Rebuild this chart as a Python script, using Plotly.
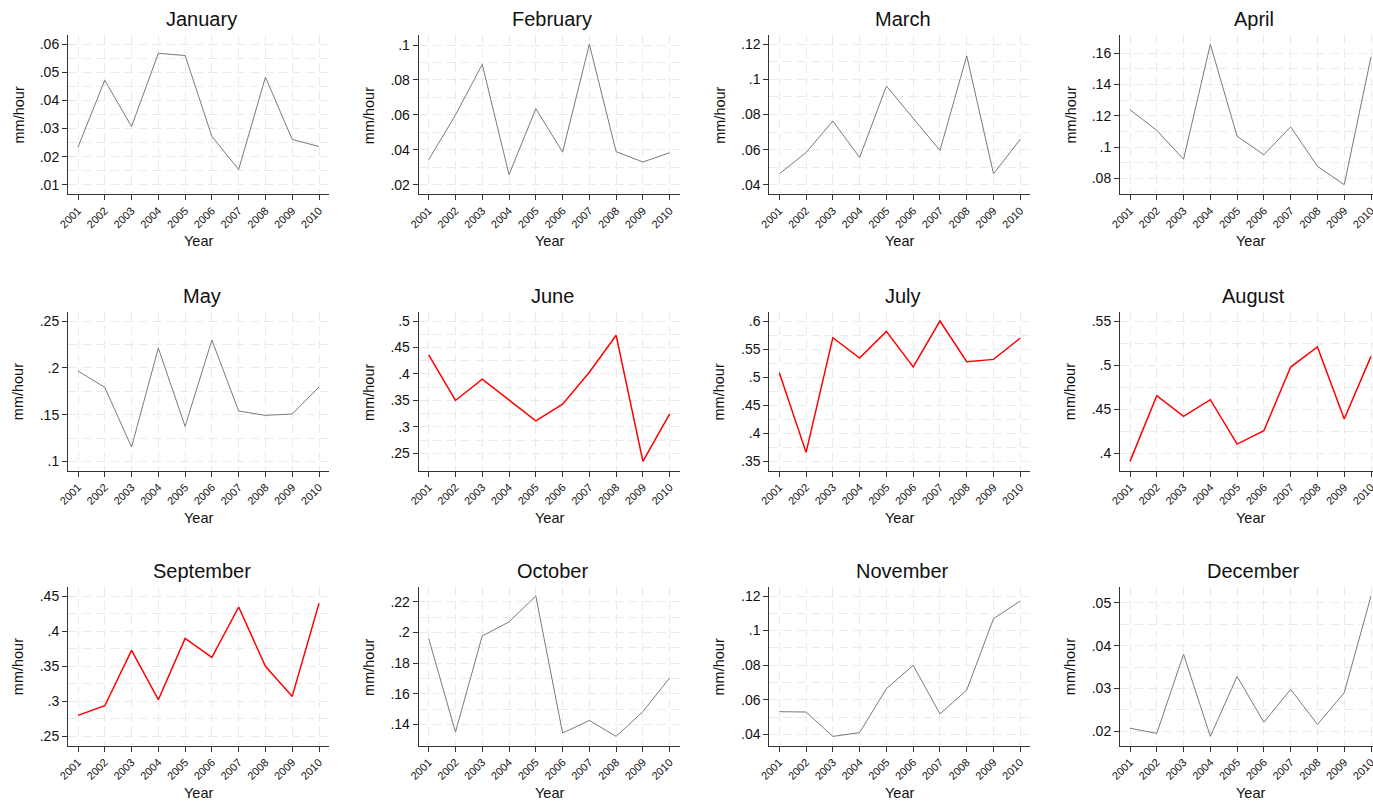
import numpy as np
import plotly.graph_objects as go

years = list(range(2001, 2011))
months = ["January", "February", "March", "April", "May", "June",
          "July", "August", "September", "October", "November", "December"]

jan = [0.0234, 0.0472, 0.0307, 0.0568, 0.0560, 0.0272, 0.0154, 0.0483, 0.0261, 0.0236]
feb = [0.0343, 0.0599, 0.0889, 0.0257, 0.0635, 0.0387, 0.1004, 0.0389, 0.0330, 0.0383]
mar = [0.0462, 0.0583, 0.0763, 0.0555, 0.0962, 0.0778, 0.0595, 0.1134, 0.0462, 0.0659]
apr = [0.1239, 0.1107, 0.0922, 0.1658, 0.1069, 0.0951, 0.1129, 0.0877, 0.0759, 0.1577]
may = [0.1966, 0.1791, 0.1153, 0.2211, 0.1374, 0.2297, 0.1538, 0.1492, 0.1506, 0.1795]
jun = [0.4359, 0.3499, 0.3901, 0.3510, 0.3116, 0.3430, 0.4033, 0.4730, 0.2349, 0.3247]
jul = [0.5083, 0.3661, 0.5708, 0.5345, 0.5821, 0.5185, 0.6006, 0.5280, 0.5321, 0.5702]
aug = [0.3905, 0.4652, 0.4417, 0.4606, 0.4102, 0.4254, 0.4977, 0.5205, 0.4386, 0.5098]
sep = [0.2799, 0.2937, 0.3726, 0.3023, 0.3897, 0.3626, 0.4343, 0.3498, 0.3070, 0.4395]
octo = [0.1960, 0.1350, 0.1977, 0.2068, 0.2237, 0.1344, 0.1426, 0.1322, 0.1484, 0.1703]
nov = [0.0531, 0.0529, 0.0388, 0.0410, 0.0664, 0.0799, 0.0518, 0.0656, 0.1069, 0.1171]
dec = [0.0207, 0.0195, 0.0380, 0.0188, 0.0328, 0.0221, 0.0298, 0.0216, 0.0290, 0.0516]
series = [jan, feb, mar, apr, may, jun, jul, aug, sep, octo, nov, dec]

# y tick specification per month: first tick, last tick, step
tick_lo = [0.01, 0.02, 0.04, 0.08, 0.10, 0.25, 0.35, 0.40, 0.25, 0.14, 0.04, 0.02]
tick_hi = [0.06, 0.10, 0.12, 0.16, 0.25, 0.50, 0.60, 0.55, 0.45, 0.22, 0.12, 0.05]
tick_step = [0.01, 0.02, 0.02, 0.02, 0.05, 0.05, 0.05, 0.05, 0.05, 0.02, 0.02, 0.01]
wet = {"June", "July", "August", "September"}

W, H = 1373, 803
col_left = [68, 418.7, 769.3, 1120]
row_top = [35, 311.7, 586.7]
plot_w, plot_h = 261, 159
px_per_year = 241 / 9.0
xpad = 10 / px_per_year
ypad_px = 9.3


def px(xp):
    return xp / W


def py(yp):
    return 1 - yp / H


def fmt(v):
    s = f"{v:g}"
    return s[1:] if s.startswith("0") else s


fig = go.Figure()
annotations = []
grid_col = "#ebebeb"
dash = "9px,5px"
font_fam = "Liberation Sans, Arial, sans-serif"

for i, (m, vals) in enumerate(zip(months, series)):
    r, c = divmod(i, 4)
    ax = "" if i == 0 else str(i + 1)
    left = col_left[c]
    width_px = min(plot_w, W - left)
    top = row_top[r]
    bottom = top + plot_h
    x0 = 2001 - xpad
    x1 = x0 + width_px / px_per_year

    ticks = np.round(np.arange(tick_lo[i], tick_hi[i] + tick_step[i] / 2, tick_step[i]), 5)
    minor = np.round(ticks[:-1] + tick_step[i] / 2, 5)
    lo = min(tick_lo[i], min(vals))
    hi = max(tick_hi[i], max(vals))
    pad = (hi - lo) * ypad_px / (plot_h - 2 * ypad_px)
    y0, y1 = lo - pad, hi + pad

    fig.add_trace(go.Scatter(
        x=years, y=vals, mode="lines",
        line=dict(color="#ff0000" if m in wet else "#7a7a7a",
                  width=1.5 if m in wet else 1),
        xaxis="x" + ax, yaxis="y" + ax, showlegend=False, hoverinfo="skip"))

    fig.layout["xaxis" + ax] = dict(
        domain=[px(left), min(1.0, px(left + width_px))], range=[x0, x1],
        anchor="y" + ax, tickmode="array", tickvals=years,
        ticktext=[str(y) for y in years], tickangle=-45,
        tickfont=dict(size=11, color="#111", family=font_fam),
        ticks="outside", ticklen=5, tickcolor="#333",
        ticklabeloverflow="allow",
        showline=True, linecolor="#333", linewidth=1,
        showgrid=True, gridcolor=grid_col, griddash=dash, gridwidth=1,
        zeroline=False, fixedrange=True, automargin=False)
    fig.layout["yaxis" + ax] = dict(
        domain=[py(bottom), py(top)], range=[y0, y1],
        anchor="x" + ax, tickmode="array", tickvals=list(ticks),
        ticktext=[fmt(t) for t in ticks],
        tickfont=dict(size=14, color="#111", family=font_fam),
        ticks="outside", ticklen=5, tickcolor="#333",
        showline=True, linecolor="#333", linewidth=1,
        showgrid=True, gridcolor=grid_col, griddash=dash, gridwidth=1,
        minor=dict(tickmode="array", tickvals=list(minor), showgrid=True,
                   gridcolor=grid_col, griddash=dash, ticklen=0),
        zeroline=False, fixedrange=True, automargin=False)

    cx = left + plot_w / 2
    annotations.append(dict(text=m, x=px(cx + 3), y=py(top - 15.5),
                            xref="paper", yref="paper", showarrow=False,
                            xanchor="center", yanchor="middle",
                            font=dict(size=20, color="#111", family=font_fam)))
    annotations.append(dict(text="mm/hour", x=px(left - 50), y=py(top + plot_h / 2 + 1),
                            xref="paper", yref="paper", showarrow=False, textangle=-90,
                            xanchor="center", yanchor="middle",
                            font=dict(size=14.5, color="#111", family=font_fam)))
    annotations.append(dict(text="Year", x=px(cx), y=py(bottom + 47),
                            xref="paper", yref="paper", showarrow=False,
                            xanchor="center", yanchor="middle",
                            font=dict(size=14.5, color="#111", family=font_fam)))

fig.update_layout(width=W, height=H, margin=dict(l=0, r=0, t=0, b=0),
                  paper_bgcolor="white", plot_bgcolor="white",
                  annotations=annotations, showlegend=False)
fig.write_html("out.html", config={"displayModeBar": False},
               post_script="document.body.style.margin='0';document.body.style.overflow='hidden';")
